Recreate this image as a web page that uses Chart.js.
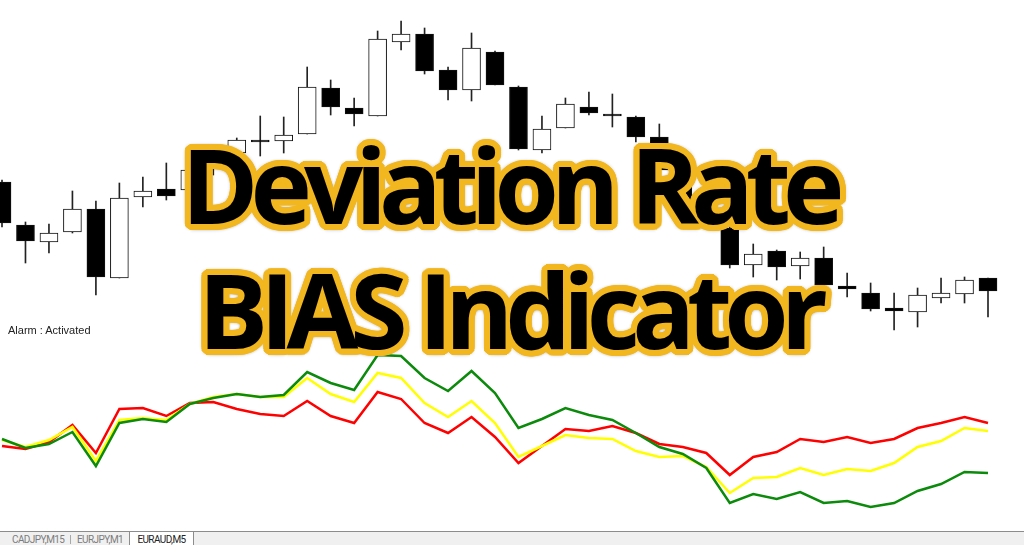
<!DOCTYPE html>
<html>
<head>
<meta charset="utf-8">
<script src="https://cdn.jsdelivr.net/npm/chart.js@4.4.1/dist/chart.umd.min.js"></script>
<style>
  html, body { margin: 0; padding: 0; background: #fff; }
  #wrap { position: relative; width: 1024px; height: 545px; overflow: hidden; }
  #grafico { position: absolute; left: 0; top: 0; }
  .titulo {
    position: absolute; left: 0; width: 1018px; text-align: center;
    font-family: 'Open Sans', sans-serif; font-weight: 700; font-size: 104px;
    line-height: 1; letter-spacing: -8px; color: #000; white-space: nowrap;
  }
  #alarma { position: absolute; left: 8px; top: 324px; font: 11px 'Liberation Sans', Arial, sans-serif; color: #222; }
  #pestanas { position: absolute; left: 0; top: 531px; width: 1024px; height: 14px; background: #f0f0f0; border-top: 1px solid #8c8c8c; font: 10px Roboto, sans-serif; letter-spacing: -0.6px; }
  #pestanas span { position: absolute; top: 1px; line-height: 13px; color: #7c7c7c; }
  #pestanas .sep { top: 3px; width: 1px; height: 9px; background: #a8a8a8; }
  #pestanas .activa { left: 129px; top: -1px; width: 63px; height: 14px; background: #fff; border: 1px solid #8c8c8c; border-bottom: none; color: #222; text-align: center; line-height: 15px; }
</style>
</head>
<body>
<div id="wrap">
  <canvas id="grafico" width="1024" height="531"></canvas>
  <div id="alarma">Alarm : Activated</div>
  <div class="titulo" id="linea1" style="top:132px">Deviation Rate</div>
  <div class="titulo" id="linea2" style="top:257px">BIAS Indicator</div>
  <div id="pestanas">
    <span style="left:12px">CADJPY,M15</span>
    <span class="sep" style="left:70px"></span>
    <span style="left:77px">EURJPY,M1</span>
    <span class="activa">EURAUD,M5</span>
  </div>
</div>
<script>
const horas = ['08:00','08:05','08:10','08:15','08:20','08:25','08:30','08:35','08:40','08:45',
  '08:50','08:55','09:00','09:05','09:10','09:15','09:20','09:25','09:30','09:35',
  '09:40','09:45','09:50','09:55','10:00','10:05','10:10','10:15','10:20','10:25',
  '10:30','10:35','10:40','10:45','10:50','10:55','11:00','11:05','11:10','11:15',
  '11:20','11:25','11:30'];

// precios en puntos
const aperturas = [1118,1075,1058,1068,1091,1022,1103,1111,1110,1135,1147,1160,1159,1166,1212,1192,1184,1258,1266,1230,
  1210,1248,1213,1150,1172,1193,1186,1183,1163,1130,1100,1072,1035,1049,1034,1042,1014,1007,992,988,1002,1006,1022];
const maximos = [1120,1078,1076,1109,1099,1117,1123,1137,1140,1145,1162,1184,1183,1233,1220,1202,1269,1279,1272,1233,
  1267,1249,1214,1184,1202,1208,1206,1184,1176,1135,1135,1073,1056,1050,1048,1053,1027,1017,1007,1012,1022,1023,1022];
const minimos = [1073,1037,1047,1067,1005,1022,1093,1100,1105,1125,1145,1144,1147,1166,1185,1174,1184,1250,1226,1200,
  1199,1215,1150,1147,1172,1185,1173,1158,1125,1095,1075,1032,1023,1020,1021,1012,1003,989,970,973,997,997,983];
const cierres = [1077,1059,1067,1091,1023,1102,1109,1104,1130,1142,1160,1158,1165,1213,1193,1186,1261,1266,1229,1210,
  1252,1215,1151,1171,1196,1187,1184,1163,1130,1100,1077,1035,1046,1033,1042,1015,1011,991,989,1005,1007,1020,1009];

// BIAS (%)
const biasLento = [0.21,0.12,0.16,0.28,-0.06,0.37,0.41,0.38,0.56,0.62,0.66,0.63,0.65,0.88,0.77,0.70,1.05,1.04,0.82,0.69,
  0.89,0.67,0.32,0.41,0.52,0.45,0.40,0.27,0.13,0.06,-0.08,-0.43,-0.34,-0.39,-0.32,-0.43,-0.41,-0.47,-0.43,-0.31,-0.24,-0.12,-0.13];
const biasMedio = [0.20,0.13,0.20,0.33,-0.01,0.40,0.42,0.40,0.56,0.63,0.66,0.63,0.63,0.82,0.66,0.58,0.87,0.82,0.57,0.43,
  0.59,0.37,0.03,0.14,0.25,0.22,0.21,0.09,0.03,0.04,-0.07,-0.33,-0.18,-0.17,-0.08,-0.15,-0.09,-0.11,-0.03,0.13,0.19,0.32,0.29];
const biasRapido = [0.14,0.11,0.18,0.35,0.07,0.51,0.52,0.44,0.57,0.58,0.51,0.46,0.44,0.59,0.44,0.37,0.68,0.61,0.37,0.27,
  0.43,0.23,-0.03,0.14,0.31,0.29,0.34,0.27,0.16,0.13,0.07,-0.15,0.03,0.08,0.21,0.18,0.23,0.17,0.21,0.32,0.37,0.43,0.37];

// contorno naranja del titulo
const sombras = [];
for (let k = 0; k < 24; k++) {
  const a = k / 24 * Math.PI * 2;
  sombras.push(`${(6 * Math.cos(a)).toFixed(1)}px ${(6 * Math.sin(a)).toFixed(1)}px 0 #f2b71f`);
}
for (let k = 0; k < 8; k++) {
  const a = k / 8 * Math.PI * 2;
  sombras.push(`${(6.5 * Math.cos(a)).toFixed(1)}px ${(6.5 * Math.sin(a)).toFixed(1)}px 3px rgba(0,0,0,0.12)`);
}
document.querySelectorAll('.titulo').forEach(el => { el.style.textShadow = sombras.join(','); });

const cuerpos = aperturas.map((o, i) => [o, cierres[i]]);
const mechas = minimos.map((l, i) => [l, maximos[i]]);
const rellenos = aperturas.map((o, i) => cierres[i] >= o ? '#ffffff' : '#000000');

new Chart(document.getElementById('grafico'), {
  type: 'bar',
  data: {
    labels: horas,
    datasets: [
      {
        label: 'Cuerpo', data: cuerpos, yAxisID: 'y', order: 1, grouped: false, clip: false,
        backgroundColor: rellenos, borderColor: '#111', borderWidth: 1, borderSkipped: false,
        barThickness: 18
      },
      {
        label: 'Mecha', data: mechas, yAxisID: 'y', order: 2, grouped: false, clip: false,
        backgroundColor: '#222', borderWidth: 0, barThickness: 1
      },
      {
        type: 'line', label: 'BIAS lento', data: biasLento, yAxisID: 'y2', order: 3,
        borderColor: '#0b8a0b', borderWidth: 2.5, pointRadius: 0, tension: 0
      },
      {
        type: 'line', label: 'BIAS medio', data: biasMedio, yAxisID: 'y2', order: 4,
        borderColor: '#ffff00', borderWidth: 2.5, pointRadius: 0, tension: 0
      },
      {
        type: 'line', label: 'BIAS rapido', data: biasRapido, yAxisID: 'y2', order: 5,
        borderColor: '#ff0000', borderWidth: 2.5, pointRadius: 0, tension: 0
      }
    ]
  },
  options: {
    responsive: false,
    animation: false,
    layout: { padding: { left: 2, right: 36, top: 0, bottom: 0 } },
    plugins: { legend: { display: false }, tooltip: { enabled: false } },
    scales: {
      x: { type: 'category', offset: false, display: false, grid: { display: false } },
      y: { display: false, min: 769, max: 1300 },
      y2: { display: false, min: -0.71, max: 4.60 }
    }
  }
});
</script>
</body>
</html>
